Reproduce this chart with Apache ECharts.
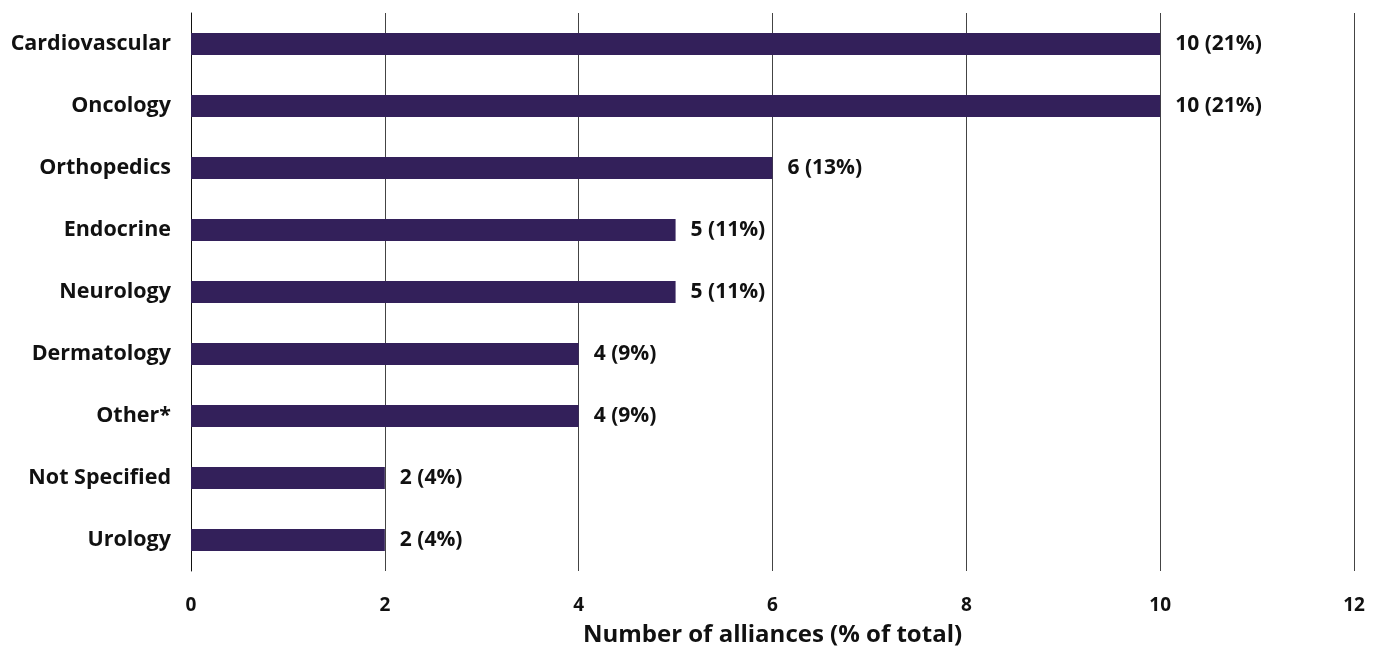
<!DOCTYPE html>
<html>
<head>
<meta charset="utf-8">
<script src="https://cdn.jsdelivr.net/npm/echarts@6/dist/echarts.min.js"></script>
<style>
  html, body { margin: 0; padding: 0; background: #fff; }
  #chart { width: 1381px; height: 648px; }
</style>
</head>
<body>
<div id="chart"></div>
<script>
// Therapeutic areas, listed top to bottom
const categories = ['Cardiovascular', 'Oncology', 'Orthopedics', 'Endocrine', 'Neurology',
  'Dermatology', 'Other*', 'Not Specified', 'Urology'];
// Number of alliances per area
const alliances = [10, 10, 6, 5, 5, 4, 4, 2, 2];
// Share of total, in percent
const shares = [21, 21, 13, 11, 11, 9, 9, 4, 4];
const xTicks = [0, 2, 4, 6, 8, 10, 12];

const FONT = 'Open Sans';
const chart = echarts.init(document.getElementById('chart'));
chart.setOption({
  animation: false,
  grid: { left: 191, right: 27, top: 13, bottom: 77, containLabel: false, outerBoundsMode: 'none' },
  xAxis: {
    type: 'value', min: xTicks[0], max: xTicks[xTicks.length - 1], interval: 2,
    name: 'Number of alliances (% of total)', nameLocation: 'middle', nameGap: 52,
    nameTextStyle: { fontFamily: FONT, fontWeight: 'bold', fontSize: 24, color: '#111' },
    axisLine: { show: false }, axisTick: { show: false },
    axisLabel: { fontFamily: FONT, fontWeight: 'bold', fontSize: 19, color: '#111', margin: 25 },
    splitLine: { show: true, lineStyle: { color: '#444', width: 1 } }
  },
  yAxis: {
    type: 'category', data: categories, inverse: true,
    axisLine: { show: true, lineStyle: { color: '#111', width: 1 } },
    axisTick: { show: false },
    axisLabel: { fontFamily: FONT, fontWeight: 'bold', fontSize: 21.5, color: '#111', margin: 20 }
  },
  series: [{
    type: 'bar', data: alliances, barWidth: 22,
    itemStyle: { color: '#33205a' },
    label: {
      show: true, position: 'right', distance: 15,
      fontFamily: FONT, fontWeight: 'bold', fontSize: 21, color: '#111',
      formatter: p => p.value + ' (' + shares[p.dataIndex] + '%)'
    }
  }]
});
</script>
</body>
</html>
